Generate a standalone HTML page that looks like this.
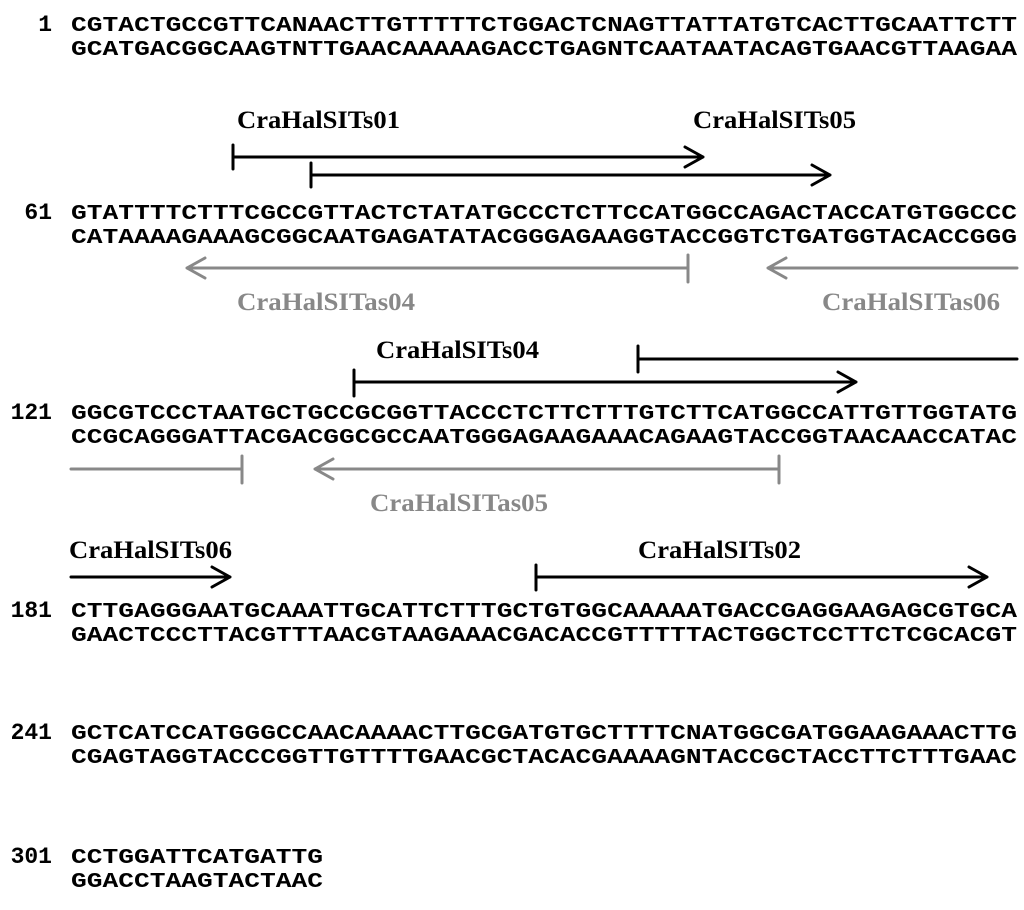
<!DOCTYPE html>
<html><head><meta charset="utf-8"><style>html,body{margin:0;padding:0;background:#fff}svg{display:block}</style></head>
<body>
<svg width="1024" height="910" xmlns="http://www.w3.org/2000/svg">
<g font-family="Liberation Mono, monospace" font-weight="bold" font-size="23" fill="#000">
<text x="52" y="31" text-anchor="end">1</text>
<text x="52" y="219" text-anchor="end">61</text>
<text x="52" y="419" text-anchor="end">121</text>
<text x="52" y="617" text-anchor="end">181</text>
<text x="52" y="739" text-anchor="end">241</text>
<text x="52" y="863" text-anchor="end">301</text>
</g>
<g font-family="Liberation Mono, monospace" font-weight="bold" font-size="21" fill="#000">
<text x="71" y="31" textLength="946" lengthAdjust="spacingAndGlyphs">CGTACTGCCGTTCANAACTTGTTTTTCTGGACTCNAGTTATTATGTCACTTGCAATTCTT</text>
<text x="71" y="55" textLength="946" lengthAdjust="spacingAndGlyphs">GCATGACGGCAAGTNTTGAACAAAAAGACCTGAGNTCAATAATACAGTGAACGTTAAGAA</text>
<text x="71" y="219" textLength="946" lengthAdjust="spacingAndGlyphs">GTATTTTCTTTCGCCGTTACTCTATATGCCCTCTTCCATGGCCAGACTACCATGTGGCCC</text>
<text x="71" y="243" textLength="946" lengthAdjust="spacingAndGlyphs">CATAAAAGAAAGCGGCAATGAGATATACGGGAGAAGGTACCGGTCTGATGGTACACCGGG</text>
<text x="71" y="419" textLength="946" lengthAdjust="spacingAndGlyphs">GGCGTCCCTAATGCTGCCGCGGTTACCCTCTTCTTTGTCTTCATGGCCATTGTTGGTATG</text>
<text x="71" y="443" textLength="946" lengthAdjust="spacingAndGlyphs">CCGCAGGGATTACGACGGCGCCAATGGGAGAAGAAACAGAAGTACCGGTAACAACCATAC</text>
<text x="71" y="617" textLength="946" lengthAdjust="spacingAndGlyphs">CTTGAGGGAATGCAAATTGCATTCTTTGCTGTGGCAAAAATGACCGAGGAAGAGCGTGCA</text>
<text x="71" y="641" textLength="946" lengthAdjust="spacingAndGlyphs">GAACTCCCTTACGTTTAACGTAAGAAACGACACCGTTTTTACTGGCTCCTTCTCGCACGT</text>
<text x="71" y="739" textLength="946" lengthAdjust="spacingAndGlyphs">GCTCATCCATGGGCCAACAAAACTTGCGATGTGCTTTTCNATGGCGATGGAAGAAACTTG</text>
<text x="71" y="763" textLength="946" lengthAdjust="spacingAndGlyphs">CGAGTAGGTACCCGGTTGTTTTGAACGCTACACGAAAAGNTACCGCTACCTTCTTTGAAC</text>
<text x="71" y="863" textLength="252" lengthAdjust="spacingAndGlyphs">CCTGGATTCATGATTG</text>
<text x="71" y="887" textLength="252" lengthAdjust="spacingAndGlyphs">GGACCTAAGTACTAAC</text>
</g>
<g font-family="Liberation Serif, serif" font-weight="bold" font-size="25">
<text x="237" y="128" fill="#000" textLength="163" lengthAdjust="spacingAndGlyphs">CraHalSITs01</text>
<text x="693" y="128" fill="#000" textLength="163" lengthAdjust="spacingAndGlyphs">CraHalSITs05</text>
<text x="237" y="310" fill="#888" textLength="178" lengthAdjust="spacingAndGlyphs">CraHalSITas04</text>
<text x="822" y="310" fill="#888" textLength="178" lengthAdjust="spacingAndGlyphs">CraHalSITas06</text>
<text x="376" y="358" fill="#000" textLength="163" lengthAdjust="spacingAndGlyphs">CraHalSITs04</text>
<text x="370" y="511" fill="#888" textLength="178" lengthAdjust="spacingAndGlyphs">CraHalSITas05</text>
<text x="69" y="558" fill="#000" textLength="163" lengthAdjust="spacingAndGlyphs">CraHalSITs06</text>
<text x="638" y="558" fill="#000" textLength="163" lengthAdjust="spacingAndGlyphs">CraHalSITs02</text>
</g>
<g fill="none" stroke-width="3" stroke-linecap="round" stroke-linejoin="round">
<g stroke="#000">
<path d="M233 145V169M233 157H703M685 147L703 157L685 167"/>
<path d="M311 163V187M311 175H830M812 165L830 175L812 185"/>
<path d="M638 346V372M638 359H1017"/>
<path d="M354 370V396M354 382H856M838 372L856 382L838 392"/>
<path d="M71 577H230M212 567L230 577L212 587"/>
<path d="M536 565V590M536 577H987M969 567L987 577L969 587"/>
</g>
<g stroke="#888">
<path d="M688 255V282M688 268H187M205 258L187 268L205 278"/>
<path d="M1017 268H768M786 258L768 268L786 278"/>
<path d="M71 469H242M242 456V483"/>
<path d="M779 456V483M779 469H315M333 459L315 469L333 479"/>
</g>
</g>
</svg>
</body></html>
